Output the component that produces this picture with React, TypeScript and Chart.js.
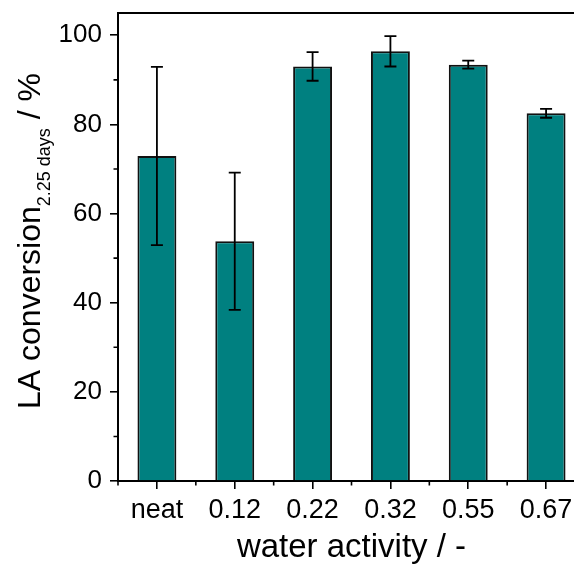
import React, { useEffect, useRef } from "react";
import { Chart, registerables } from "chart.js";

Chart.register(...registerables);

const categories = ["neat", "0.12", "0.22", "0.32", "0.55", "0.67"];
const conversion = [72.9, 53.8, 93.0, 96.4, 93.4, 82.5];
const errors = [20.0, 15.4, 3.2, 3.4, 0.9, 1.0];
const yMajorTicks = [0, 20, 40, 60, 80, 100];
const yMinorTicks = [10, 30, 50, 70, 90];

const FONT = '"Liberation Sans", Arial, sans-serif';
const TEAL = "rgb(0,128,128)";

const extrasPlugin = {
  id: "extras",
  beforeDraw(chart: any) {
    const ctx = chart.ctx;
    ctx.save();
    ctx.fillStyle = "#ffffff";
    ctx.fillRect(0, 0, chart.width, chart.height);
    ctx.restore();
  },
  afterDatasetsDraw(chart: any) {
    const ctx = chart.ctx;
    const meta = chart.getDatasetMeta(0);
    const ys = chart.scales.y;
    ctx.save();
    ctx.strokeStyle = "#000";
    ctx.lineWidth = 1.8;
    meta.data.forEach((bar: any, i: number) => {
      const x = bar.x;
      const top = ys.getPixelForValue(conversion[i] + errors[i]);
      const bot = ys.getPixelForValue(conversion[i] - errors[i]);
      ctx.beginPath();
      ctx.moveTo(x, top);
      ctx.lineTo(x, bot);
      ctx.moveTo(x - 6, top);
      ctx.lineTo(x + 6, top);
      ctx.moveTo(x - 6, bot);
      ctx.lineTo(x + 6, bot);
      ctx.stroke();
    });
    ctx.restore();
  },
  afterDraw(chart: any) {
    const ctx = chart.ctx;
    const a = chart.chartArea;
    const ys = chart.scales.y;
    const xs = chart.scales.x;
    ctx.save();
    ctx.strokeStyle = "#000";
    ctx.lineWidth = 2;
    // frame
    ctx.beginPath();
    ctx.moveTo(a.left, a.top);
    ctx.lineTo(a.right, a.top);
    ctx.lineTo(a.right, a.bottom);
    ctx.stroke();
    // y minor ticks
    ctx.lineWidth = 1.6;
    ctx.beginPath();
    yMinorTicks.forEach((v) => {
      const y = ys.getPixelForValue(v);
      ctx.moveTo(a.left - 4.5, y);
      ctx.lineTo(a.left, y);
    });
    // x minor ticks
    for (let i = 0; i <= categories.length; i++) {
      const x = xs.getPixelForValue(i - 0.5);
      ctx.moveTo(x, a.bottom);
      ctx.lineTo(x, a.bottom + 4.5);
    }
    ctx.stroke();

    // x title
    ctx.fillStyle = "#000";
    ctx.font = `33px ${FONT}`;
    ctx.textAlign = "center";
    ctx.textBaseline = "alphabetic";
    ctx.fillText("water activity / -", (a.left + a.right) / 2, 557);

    // y title with subscript
    const main1 = "LA conversion";
    const sub = "2.25 days";
    const main2 = " / %";
    const mainFont = `32px ${FONT}`;
    const subFont = `18px ${FONT}`;
    ctx.font = mainFont;
    const w1 = ctx.measureText(main1).width;
    const w3 = ctx.measureText(main2).width;
    ctx.font = subFont;
    const w2 = ctx.measureText(sub).width;
    const total = w1 + w2 + w3;
    const cy = 241;
    ctx.translate(40, cy);
    ctx.rotate(-Math.PI / 2);
    ctx.textAlign = "left";
    let x0 = -total / 2;
    ctx.font = mainFont;
    ctx.fillText(main1, x0, 0);
    ctx.font = subFont;
    ctx.fillText(sub, x0 + w1, 10);
    ctx.font = mainFont;
    ctx.fillText(main2, x0 + w1 + w2, 0);
    ctx.restore();
  },
};

export default function App() {
  const ref = useRef<HTMLCanvasElement>(null);
  useEffect(() => {
    if (!ref.current) return;
    const chart = new Chart(ref.current, {
      type: "bar",
      data: {
        labels: categories,
        datasets: [
          {
            data: conversion,
            backgroundColor: TEAL,
            borderColor: "#111",
            borderWidth: 2,
            barPercentage: 0.5,
            categoryPercentage: 1,
          },
        ],
      },
      options: {
        responsive: false,
        animation: false,
        events: [],
        layout: { padding: { top: 13, right: 15, left: 0, bottom: 0 } },
        plugins: {
          legend: { display: false },
          tooltip: { enabled: false },
        },
        scales: {
          x: {
            type: "category",
            offset: true,
            grid: {
              offset: false,
              drawOnChartArea: false,
              drawTicks: true,
              tickLength: 8,
              color: "#000",
              lineWidth: 1.6,
            },
            border: { display: true, color: "#000", width: 2 },
            ticks: {
              color: "#000",
              font: { family: FONT, size: 27 },
              padding: 5,
              maxRotation: 0,
              autoSkip: false,
            },
            afterFit: (s: any) => {
              s.height = 87;
              s.paddingLeft = 0;
              s.paddingRight = 0;
            },
          },
          y: {
            type: "linear",
            min: 0,
            max: 105,
            grid: {
              drawOnChartArea: false,
              drawTicks: true,
              tickLength: 8,
              color: "#000",
              lineWidth: 1.6,
            },
            border: { display: true, color: "#000", width: 2 },
            ticks: {
              color: "#000",
              font: { family: FONT, size: 26 },
              padding: 8,
            },
            afterBuildTicks: (s: any) => {
              s.ticks = yMajorTicks.map((v) => ({ value: v }));
            },
            afterFit: (s: any) => {
              s.width = 118;
              s.paddingTop = 0;
              s.paddingBottom = 0;
            },
          },
        },
      },
      plugins: [extrasPlugin],
    });
    return () => chart.destroy();
  }, []);
  return (
    <div
      style={{
        position: "fixed",
        left: 0,
        top: 0,
        width: 574,
        height: 568,
        overflow: "hidden",
        background: "#fff",
      }}
    >
      <canvas ref={ref} width={600} height={568} style={{ width: 600, height: 568 }} />
    </div>
  );
}
